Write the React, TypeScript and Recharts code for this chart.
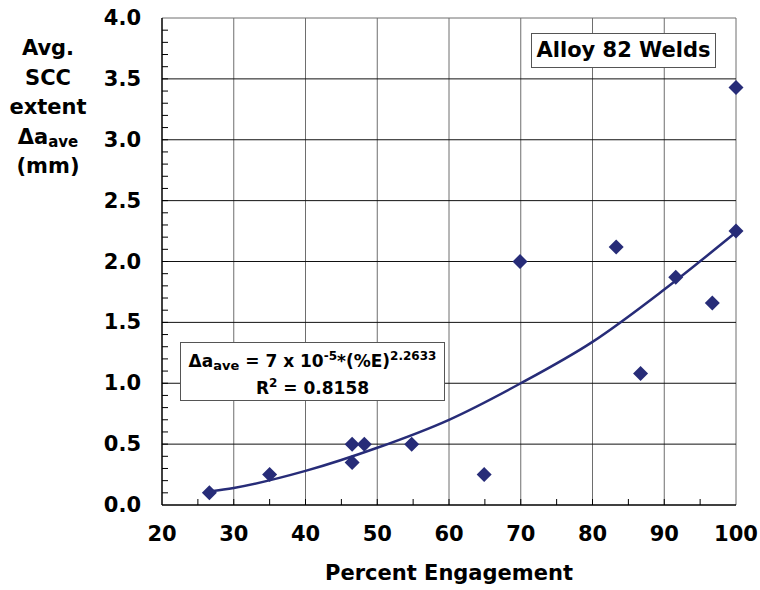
import React from "react"
import { ComposedChart, XAxis, YAxis, Scatter, Line, ReferenceLine } from "recharts"

// percent engagement vs average SCC extent
const engagement = [26.6, 35, 46.5, 46.5, 48.2, 54.8, 64.9, 69.9, 83.3, 86.7, 91.6, 96.7, 100, 100]
const sccExtent = [0.1, 0.25, 0.5, 0.35, 0.5, 0.5, 0.25, 2.0, 2.12, 1.08, 1.87, 1.66, 2.25, 3.43]

// power-law trend line, sampled by eye from the drawn curve
const trendX = [26.6, 30, 40, 50, 60, 70, 80, 90, 100]
const trendY = [0.11, 0.14, 0.28, 0.47, 0.7, 1.0, 1.34, 1.77, 2.24]

const xTicks = [20, 30, 40, 50, 60, 70, 80, 90, 100]
const xMinorTicks = [20, 25, 30, 35, 40, 45, 50, 55, 60, 65, 70, 75, 80, 85, 90, 95, 100]
const yTicks = [0, 0.5, 1, 1.5, 2, 2.5, 3, 3.5, 4]
const yMinorTicks = Array.from({ length: 41 }, (_, i) => i / 10)

const points = engagement.map((x, i) => ({ x, y: sccExtent[i] }))
const trend = trendX.map((x, i) => ({ x, y: trendY[i] }))

const NAVY = "#272c78"
const FONT = "'DejaVu Sans', Verdana, sans-serif"

const Diamond = (props: any) => {
  const { cx, cy } = props
  const r = 7.5
  return <polygon points={`${cx},${cy - r} ${cx + r},${cy} ${cx},${cy + r} ${cx - r},${cy}`} fill={NAVY} />
}

const XTick = (props: any) => {
  const { x, y, payload } = props
  const major = payload.value % 10 === 0
  return (
    <g>
      {payload.value > 20 && payload.value < 100 && <line x1={x} x2={x} y1={y} y2={y - 6} stroke="#000" strokeWidth={1} />}
      {major && (
        <text x={x} y={y + 36} textAnchor="middle" fontFamily={FONT} fontWeight="bold" fontSize={21} fill="#000">
          {payload.value}
        </text>
      )}
    </g>
  )
}

const YTick = (props: any) => {
  const { x, y, payload } = props
  const v = Math.round(payload.value * 10)
  const major = v % 5 === 0
  return (
    <g>
      {v > 0 && v < 40 && <line x1={x} x2={x + 6} y1={y} y2={y} stroke="#000" strokeWidth={1} />}
      {major && (
        <text x={x - 21} y={y + 7} textAnchor="end" fontFamily={FONT} fontWeight="bold" fontSize={21} fill="#000">
          {(v / 10).toFixed(1)}
        </text>
      )}
    </g>
  )
}

const boxStyle: React.CSSProperties = {
  position: "absolute",
  background: "#fff",
  border: "1px solid #555",
  fontFamily: FONT,
  fontWeight: "bold",
  color: "#000",
  textAlign: "center",
  boxSizing: "border-box",
}

const supStyle: React.CSSProperties = { fontSize: 12, verticalAlign: "7px", lineHeight: 0 }
const subStyle: React.CSSProperties = { fontSize: 13, verticalAlign: "-3px", lineHeight: 0 }

export default function App() {
  return (
    <div style={{ position: "absolute", left: 0, top: 0, width: 760, height: 590, background: "#fff" }}>
      <ComposedChart width={760} height={590} margin={{ top: 18, right: 24, left: 0, bottom: 0 }}>
        <XAxis
          dataKey="x"
          type="number"
          domain={[20, 100]}
          ticks={xMinorTicks}
          interval={0}
          tickSize={0}
          tickMargin={0}
          tickLine={false}
          tick={<XTick />}
          height={85}
          axisLine={{ stroke: "#000", strokeWidth: 1.5 }}
        />
        <YAxis
          dataKey="y"
          type="number"
          domain={[0, 4]}
          ticks={yMinorTicks}
          interval={0}
          tickSize={0}
          tickMargin={0}
          tickLine={false}
          tick={<YTick />}
          width={162}
          axisLine={{ stroke: "#000", strokeWidth: 1.5 }}
        />
        {xTicks.slice(1).map((v) => (
          <ReferenceLine key={"vx" + v} x={v} stroke="#6e6e6e" strokeWidth={1} />
        ))}
        {yTicks.slice(1).map((v) => (
          <ReferenceLine key={"hy" + v} y={v} stroke={v === 4 ? "#6e6e6e" : "#111"} strokeWidth={1} />
        ))}
        <Line
          data={trend}
          dataKey="y"
          type="monotone"
          stroke={NAVY}
          strokeWidth={2.5}
          dot={false}
          activeDot={false}
          isAnimationActive={false}
        />
        <Scatter data={points} dataKey="y" shape={<Diamond />} isAnimationActive={false} />
      </ComposedChart>

      <div
        style={{
          position: "absolute",
          left: 6,
          top: 34,
          width: 84,
          fontFamily: FONT,
          fontWeight: "bold",
          fontSize: 21,
          lineHeight: "29.5px",
          textAlign: "center",
          color: "#000",
        }}
      >
        <div>Avg.</div>
        <div>SCC</div>
        <div>extent</div>
        <div>
          Δa<sub style={{ fontSize: 15, verticalAlign: "-3px", lineHeight: 0 }}>ave</sub>
        </div>
        <div>(mm)</div>
      </div>

      <div
        style={{
          position: "absolute",
          left: 162,
          width: 574,
          top: 561,
          fontFamily: FONT,
          fontWeight: "bold",
          fontSize: 21,
          textAlign: "center",
          color: "#000",
        }}
      >
        Percent Engagement
      </div>

      <div style={{ ...boxStyle, left: 531, top: 33, width: 185, height: 35, fontSize: 21, lineHeight: "33px" }}>
        Alloy 82 Welds
      </div>

      <div style={{ ...boxStyle, left: 180, top: 342, width: 265, height: 59, fontSize: 17, lineHeight: "27px", paddingTop: 5 }}>
        <div style={{ whiteSpace: "nowrap" }}>
          Δa<sub style={subStyle}>ave</sub> = 7 x 10<sup style={supStyle}>-5</sup>*(%E)<sup style={supStyle}>2.2633</sup>
        </div>
        <div>
          R<sup style={supStyle}>2</sup> = 0.8158
        </div>
      </div>
    </div>
  )
}
